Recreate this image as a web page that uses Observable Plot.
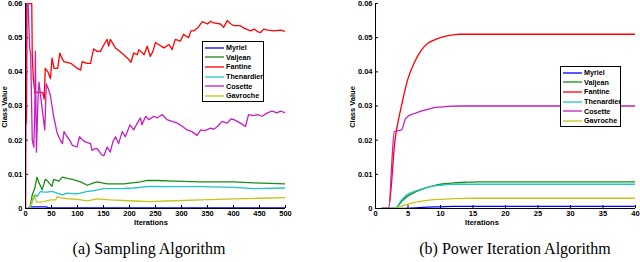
<!DOCTYPE html>
<html>
<head>
<meta charset="utf-8">
<script src="https://cdn.jsdelivr.net/npm/d3@7"></script>
<script src="https://cdn.jsdelivr.net/npm/@observablehq/plot@0.6"></script>
<style>
  html, body { margin: 0; padding: 0; background: #fff; }
  #root { position: relative; width: 640px; height: 262px; overflow: hidden; font-family: "Liberation Sans", Arial, sans-serif; }
  .panel { position: absolute; top: 0; }
  .axlab { position: absolute; font: bold 7.5px "Liberation Sans", Arial, sans-serif; color: #000; white-space: nowrap; line-height: 1; }
  .legend { position: absolute; background: #fff; border: 1px solid #000; box-sizing: border-box; padding-top: 1px; overflow: hidden; }
  .legrow { display: flex; align-items: center; height: 9.6px; font: bold 7.2px "Liberation Sans", Arial, sans-serif; white-space: nowrap; line-height: 1; }
  .legrow svg { display: block; margin-left: 2px; margin-right: 2px; flex: none; }
  .caption { position: absolute; font: 16px "Liberation Serif", "DejaVu Serif", serif; color: #000; white-space: nowrap; line-height: 1; }
</style>
</head>
<body>
<div id="root"></div>
<script>
// ---------- data ----------
const seriesNames = ["Myriel", "Valjean", "Fantine", "Thenardier", "Cosette", "Gavroche"];
const seriesColors = ["#0000ff", "#1a8c1a", "#ff0000", "#22c4c4", "#c21fc2", "#c4c41a"];
const yTicks = [0, 0.01, 0.02, 0.03, 0.04, 0.05, 0.06];
const samplingXTicks = [0, 50, 100, 150, 200, 250, 300, 350, 400, 450, 500];
const powerXTicks = [0, 5, 10, 15, 20, 25, 30, 35, 40];
const captions = ["(a) Sampling Algorithm", "(b) Power Iteration Algorithm"];

// (a) Sampling algorithm: [iteration, class value]
const samplingMyriel = [[0,0],[5,0],[8,0.0005],[40,0.0005],[45,0.0002],[500,0.0002]];
const samplingValjean = [[0,0],[8,0],[13,0.004],[18,0.006],[22,0.0092],[26,0.0075],[29,0.0065],[32,0.0055],[35,0.007],[38,0.0085],[42,0.0082],[45,0.0075],[51,0.0065],[54,0.0085],[60,0.0082],[64,0.008],[71,0.0092],[80,0.0088],[90,0.0085],[106,0.0078],[119,0.0068],[131,0.0075],[138,0.0078],[157,0.0072],[189,0.0072],[221,0.0078],[234,0.0082],[253,0.0082],[285,0.008],[337,0.0078],[401,0.0078],[439,0.0075],[500,0.0072]];
const samplingFantine = [[0,0],[1,0.06],[2,0.025],[3,0.06],[12,0.06],[13,0.045],[15,0.038],[18,0.034],[33,0.034],[36,0.032],[38,0.041],[43,0.040],[48,0.038],[51,0.044],[55,0.041],[62,0.041],[66,0.0455],[70,0.044],[74,0.043],[87,0.0425],[100,0.041],[106,0.0405],[109,0.043],[118,0.0425],[125,0.0425],[131,0.0467],[138,0.046],[144,0.046],[151,0.048],[157,0.0495],[160,0.0475],[163,0.0495],[173,0.047],[181,0.046],[189,0.045],[196,0.044],[203,0.0428],[208,0.0455],[215,0.045],[218,0.0465],[228,0.045],[234,0.0475],[240,0.0445],[245,0.046],[250,0.0486],[258,0.0478],[266,0.047],[276,0.048],[282,0.0465],[288,0.0495],[298,0.049],[304,0.051],[308,0.0505],[314,0.050],[318,0.052],[324,0.052],[332,0.053],[340,0.0547],[350,0.054],[356,0.0548],[362,0.0543],[375,0.054],[381,0.053],[388,0.055],[395,0.054],[401,0.0535],[413,0.0535],[420,0.0528],[433,0.052],[440,0.0525],[446,0.0518],[452,0.0515],[458,0.0525],[466,0.0522],[478,0.052],[490,0.0522],[500,0.0518]];
const samplingThenardier = [[0,0],[8,0],[13,0.002],[19,0.004],[22,0.0035],[29,0.005],[35,0.0048],[42,0.0048],[51,0.005],[61,0.0045],[71,0.004],[80,0.0045],[99,0.0043],[119,0.005],[131,0.0052],[151,0.0058],[183,0.0058],[208,0.006],[240,0.0065],[272,0.0064],[337,0.0064],[401,0.0062],[439,0.0058],[500,0.006]];
const samplingCosette = [[0,0],[1,0.06],[5,0.06],[8,0.047],[10,0.045],[13,0.02],[16,0.018],[18,0.03],[19,0.046],[21,0.0165],[24,0.032],[26,0.037],[29,0.033],[33,0.028],[37,0.023],[40,0.0365],[44,0.035],[48,0.033],[54,0.027],[61,0.022],[67,0.02],[71,0.019],[74,0.0225],[80,0.021],[85,0.02],[90,0.0185],[99,0.018],[104,0.021],[110,0.02],[115,0.0195],[125,0.019],[128,0.017],[133,0.0175],[138,0.0175],[147,0.0156],[151,0.0155],[157,0.018],[163,0.0165],[168,0.0195],[173,0.021],[179,0.019],[186,0.0225],[192,0.021],[201,0.0245],[208,0.023],[215,0.025],[221,0.0265],[224,0.0245],[231,0.027],[237,0.026],[247,0.027],[253,0.0265],[263,0.0275],[272,0.026],[282,0.0255],[292,0.025],[302,0.024],[311,0.023],[320,0.0225],[330,0.0214],[337,0.023],[345,0.0228],[356,0.0235],[362,0.0232],[369,0.024],[378,0.0255],[388,0.025],[395,0.0262],[401,0.026],[413,0.025],[423,0.024],[429,0.0275],[438,0.0272],[446,0.0275],[455,0.027],[465,0.028],[474,0.0285],[484,0.028],[490,0.0285],[500,0.028]];
const samplingGavroche = [[0,0],[7,0],[10,0.001],[16,0.004],[22,0.0018],[35,0.002],[48,0.0025],[58,0.0025],[61,0.0035],[71,0.003],[99,0.0027],[119,0.0022],[138,0.0028],[163,0.0025],[208,0.0022],[240,0.002],[272,0.0022],[337,0.0025],[401,0.0028],[452,0.003],[500,0.0032]];

// (b) Power iteration algorithm: [iteration, class value]
const powerMyriel = [[1,0],[4,0],[6,0.0002],[8,0.0004],[10,0.0005],[12,0.0006],[40,0.0006]];
const powerValjean = [[1,0],[3,0],[4,0.002],[5,0.0037],[6,0.0047],[7,0.0055],[8,0.0062],[9,0.0067],[10,0.0071],[11,0.0073],[12,0.0075],[14,0.0077],[16,0.0078],[40,0.0078]];
const powerFantine = [[1,0],[2,0],[3,0.02],[4,0.0301],[5,0.038],[6,0.0428],[7,0.0462],[8,0.0483],[9,0.0493],[10,0.05],[11,0.0505],[12,0.0508],[13,0.051],[15,0.051],[40,0.051]];
const powerThenardier = [[1,0],[3,0],[4,0.0025],[5,0.0042],[6,0.005],[7,0.0057],[8,0.0062],[9,0.0066],[10,0.0068],[11,0.007],[13,0.0071],[40,0.0071]];
const powerCosette = [[1,0],[2,0],[2.9,0.0225],[3.5,0.0228],[4,0.023],[4.6,0.0262],[5,0.027],[6,0.0278],[7,0.0285],[8,0.029],[9,0.0295],[10,0.0297],[11,0.0299],[13,0.03],[40,0.03]];
const powerGavroche = [[1,0],[3,0],[4,0.0007],[5,0.0013],[6,0.0018],[7,0.0021],[8,0.0024],[9,0.0026],[10,0.0027],[12,0.0029],[15,0.003],[40,0.003]];

// ---------- build ----------
function toRows(arrays) {
  return arrays.flatMap((arr, i) => arr.map(([x, y]) => ({series: seriesNames[i], x, y})));
}
const samplingRows = toRows([samplingMyriel, samplingValjean, samplingFantine, samplingThenardier, samplingCosette, samplingGavroche]);
const powerRows = toRows([powerMyriel, powerValjean, powerFantine, powerThenardier, powerCosette, powerGavroche]);

const fmt = d => d === 0 ? "0" : d.toFixed(2);

function makeChart(rows, xDomain, xTicks, margins, curve) {
  return Plot.plot({
    width: 320,
    height: 230,
    marginTop: 3,
    marginBottom: 22,
    marginLeft: margins[0],
    marginRight: margins[1],
    style: {font: "bold 7.5px 'Liberation Sans', Arial, sans-serif", color: "#000", background: "transparent"},
    x: {domain: xDomain, ticks: xTicks, tickSize: -3, tickPadding: 5, label: null, tickFormat: d => String(d)},
    y: {domain: [0, 0.06], ticks: yTicks, tickSize: -3, tickPadding: 6, label: null, tickFormat: fmt},
    color: {domain: seriesNames, range: seriesColors},
    marks: [
      Plot.ruleY([0], {stroke: "#000", strokeWidth: 1}),
      Plot.lineY(rows, {x: "x", y: "y", z: "series", stroke: "series", strokeWidth: 1.3, curve, clip: true}),
      Plot.ruleX([xDomain[0]], {stroke: "#000", strokeWidth: 1})
    ]
  });
}

const root = document.getElementById("root");

function addPanel(left, chart) {
  const d = document.createElement("div");
  d.className = "panel";
  d.style.left = left + "px";
  d.appendChild(chart);
  root.appendChild(d);
}
addPanel(0, makeChart(samplingRows, [0, 500], samplingXTicks, [25, 35], "linear"));
addPanel(320, makeChart(powerRows, [0, 40], powerXTicks, [55, 5], "monotone-x"));

function addText(cls, text, x, y, rotate) {
  const s = document.createElement("div");
  s.className = cls;
  s.textContent = text;
  s.style.left = x + "px";
  s.style.top = y + "px";
  s.style.transform = rotate ? "translate(-50%,-50%) rotate(-90deg)" : "translate(-50%,-50%)";
  root.appendChild(s);
}
addText("axlab", "Class Value", 5, 107, true);
addText("axlab", "Class Value", 353, 107, true);
addText("axlab", "Iterations", 151, 222.5, false);
addText("axlab", "Iterations", 482, 222.5, false);

const SVGNS = "http://www.w3.org/2000/svg";
function addLegend(x, y, w, h) {
  const L = document.createElement("div");
  L.className = "legend";
  L.style.left = x + "px"; L.style.top = y + "px";
  L.style.width = w + "px"; L.style.height = h + "px";
  seriesNames.forEach((n, i) => {
    const r = document.createElement("div");
    r.className = "legrow";
    const sw = document.createElementNS(SVGNS, "svg");
    sw.setAttribute("width", "19");
    sw.setAttribute("height", "4");
    const ln = document.createElementNS(SVGNS, "line");
    ln.setAttribute("x1", "0"); ln.setAttribute("x2", "19");
    ln.setAttribute("y1", "2"); ln.setAttribute("y2", "2");
    ln.setAttribute("stroke", seriesColors[i]);
    ln.setAttribute("stroke-width", "1.3");
    sw.appendChild(ln);
    const t = document.createElement("span");
    t.textContent = n;
    r.appendChild(sw); r.appendChild(t);
    L.appendChild(r);
  });
  root.appendChild(L);
}
addLegend(202, 41, 62, 61);
addLegend(560, 66, 61, 61);

function addCaption(text, x, y) {
  const c = document.createElement("div");
  c.className = "caption";
  c.textContent = text;
  c.style.left = x + "px";
  c.style.top = y + "px";
  c.style.transform = "translate(-50%,-50%)";
  root.appendChild(c);
}
addCaption(captions[0], 149, 249);
addCaption(captions[1], 515, 249);
</script>
</body>
</html>
